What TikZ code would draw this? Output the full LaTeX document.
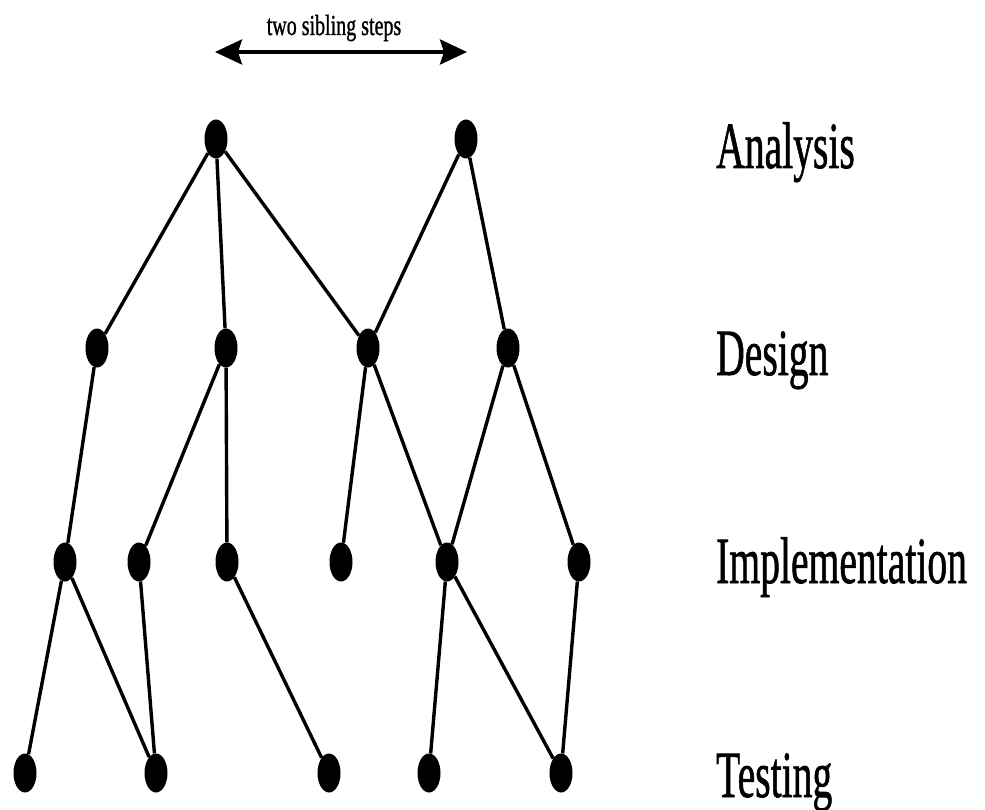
\documentclass[tikz,border=0pt]{standalone}
\usepackage{fontspec}
\setmainfont{Liberation Serif}
\newfontfamily\scanfont{Liberation Serif}[FakeBold=1.2]
\usetikzlibrary{shapes.geometric,arrows.meta}
\tikzset{
  dot/.style={ellipse,fill=black,draw=none,inner sep=0pt,minimum width=23pt,minimum height=39pt},
  edge/.style={line width=3.4pt},
  phase/.style={anchor=base west,inner sep=0pt,font=\scanfont\fontsize{66}{70}\selectfont},
  tag/.style={anchor=base,inner sep=0pt,font=\scanfont\fontsize{29}{31}\selectfont}
}
\begin{document}
\begin{tikzpicture}[x=1pt,y=-1pt]
\useasboundingbox (0,0) rectangle (985,810);
% nodes
\node[dot] (A1) at (216,139) {};
\node[dot] (A2) at (466,139) {};
\node[dot] (D1) at (97,348) {};
\node[dot] (D2) at (226,348) {};
\node[dot] (D3) at (368,348) {};
\node[dot] (D4) at (508,348) {};
\node[dot] (I1) at (65,562) {};
\node[dot] (I2) at (139,562) {};
\node[dot] (I3) at (227,562) {};
\node[dot] (I4) at (341,562) {};
\node[dot] (I5) at (447,562) {};
\node[dot] (I6) at (579,562) {};
\node[dot] (T1) at (25,773) {};
\node[dot] (T2) at (156,773) {};
\node[dot] (T3) at (329,773) {};
\node[dot] (T4) at (429,773) {};
\node[dot] (T5) at (561,773) {};
% edges
\draw[edge] (A1) -- (D1);
\draw[edge] (A1) -- (D2);
\draw[edge] (A1) -- (D3);
\draw[edge] (A2) -- (D3);
\draw[edge] (A2) -- (D4);
\draw[edge] (D1) -- (I1);
\draw[edge] (D2) -- (I2);
\draw[edge] (D2) -- (I3);
\draw[edge] (D3) -- (I4);
\draw[edge] (D3) -- (I5);
\draw[edge] (D4) -- (I5);
\draw[edge] (D4) -- (I6);
\draw[edge] (I1) -- (T1);
\draw[edge] (I1) -- (T2);
\draw[edge] (I2) -- (T2);
\draw[edge] (I3) -- (T3);
\draw[edge] (I5) -- (T4);
\draw[edge] (I5) -- (T5);
\draw[edge] (I6) -- (T5);
% top arrow
\coordinate (L) at (215,52);
\coordinate (R) at (467,52);
\draw[line width=3.8pt,{Stealth[length=27pt,width=25pt,inset=4pt]}-{Stealth[length=27pt,width=25pt,inset=4pt]}] (L) -- (R);
\node[tag] (lbl) at (334,35) {\scalebox{0.69}[1]{two sibling steps}};
% phase labels
\node[phase] (pA) at (716,168) {\scalebox{0.6}[1]{Analysis}};
\node[phase] (pD) at (716,375) {\scalebox{0.6}[1]{Design}};
\node[phase] (pI) at (716,583) {\scalebox{0.6}[1]{Implementation}};
\node[phase] (pT) at (716,797) {\scalebox{0.6}[1]{Testing}};
\end{tikzpicture}
\end{document}
